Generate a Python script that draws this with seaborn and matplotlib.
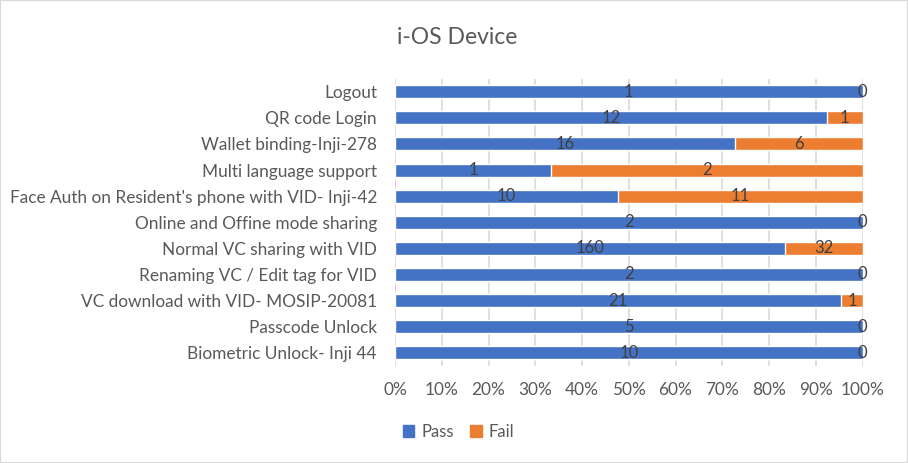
import matplotlib
matplotlib.use("Agg")
import matplotlib.pyplot as plt
import matplotlib.patches as mpatches
import numpy as np
import pandas as pd
import seaborn as sns

categories = [
    "Logout",
    "QR code Login",
    "Wallet binding-Inji-278",
    "Multi language support",
    "Face Auth on Resident's phone with VID- Inji-42",
    "Online and Offine mode sharing",
    "Normal VC sharing with VID",
    "Renaming VC / Edit tag for VID",
    "VC download with VID- MOSIP-20081",
    "Passcode Unlock",
    "Biometric Unlock- Inji 44",
]
pass_counts = [1, 12, 16, 1, 10, 2, 160, 2, 21, 5, 10]
fail_counts = [0, 1, 6, 2, 11, 0, 32, 0, 1, 0, 0]

PASS_COLOR = "#4472C4"
FAIL_COLOR = "#ED7D31"
TEXT_COLOR = "#595959"
LABEL_COLOR = "#404040"

sns.set_style("white")
plt.rcParams["font.family"] = ["Lato", "DejaVu Sans"]

df = pd.DataFrame({"category": categories, "pass": pass_counts, "fail": fail_counts})
df["total"] = df["pass"] + df["fail"]
df["pass_pct"] = df["pass"] / df["total"] * 100
df["full"] = 100.0

fig = plt.figure(figsize=(9.08, 4.63), dpi=100)
ax = fig.add_axes([0.435, 0.21, 0.515, 0.62])

# stacked 100% bars: full-length fail bar, pass share drawn on top
sns.barplot(data=df, y="category", x="full", color=FAIL_COLOR, orient="h",
            width=0.5, ax=ax, saturation=1, zorder=2)
sns.barplot(data=df, y="category", x="pass_pct", color=PASS_COLOR, orient="h",
            width=0.5, ax=ax, saturation=1, zorder=3)

for i, row in df.iterrows():
    p = row["pass_pct"]
    ax.text(p / 2, i, str(row["pass"]), ha="center", va="center",
            fontsize=12, color=LABEL_COLOR, zorder=5)
    ax.text(p + (100 - p) / 2, i, str(row["fail"]), ha="center", va="center",
            fontsize=12, color=LABEL_COLOR, zorder=5)

ax.set_xlim(0, 100)
ax.set_xticks(np.arange(0, 101, 10))
ax.set_xticklabels([f"{t}%" for t in range(0, 101, 10)])
ax.xaxis.grid(True, color="#D9D9D9", linewidth=1.2, zorder=0)
ax.set_axisbelow(True)
ax.set_xlabel("")
ax.set_ylabel("")
for s in ax.spines.values():
    s.set_visible(False)
ax.tick_params(axis="both", length=0, labelsize=12.4, labelcolor=TEXT_COLOR)
ax.tick_params(axis="y", pad=13)
ax.tick_params(axis="x", pad=12)

fig.text(0.503, 0.918, "i-OS Device", ha="center", va="center",
         fontsize=16.5, color=TEXT_COLOR)

handles = [mpatches.Patch(color=PASS_COLOR, label="Pass"),
           mpatches.Patch(color=FAIL_COLOR, label="Fail")]
fig.legend(handles=handles, loc="center", bbox_to_anchor=(0.505, 0.067), ncol=2,
           frameon=False, fontsize=12, handlelength=0.7, handleheight=0.7,
           handletextpad=0.4, columnspacing=1.0, labelcolor=TEXT_COLOR)

fig.patches.append(mpatches.Rectangle((0, 0), 1, 1, transform=fig.transFigure,
                                      fill=False, edgecolor="#D9D9D9", linewidth=1.5))

fig.savefig("out.png", dpi=100)
